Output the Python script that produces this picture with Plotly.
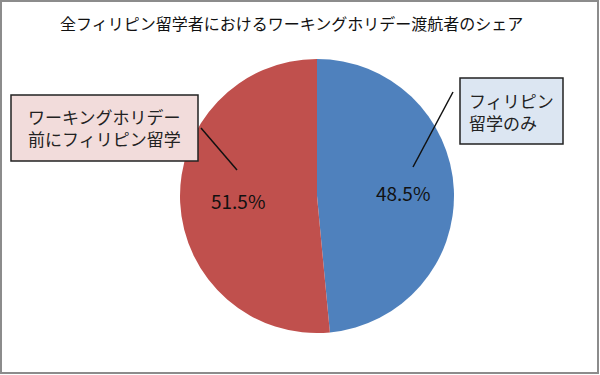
import plotly.graph_objects as go

W, H = 600, 375
title = "全フィリピン留学者におけるワーキングホリデー渡航者のシェア"
labels = ["フィリピン<br>留学のみ", "ワーキングホリデー<br>前にフィリピン留学"]
values = [48.5, 51.5]
colors = ["#4F81BD", "#C0504D"]
box_fills = ["#DCE6F2", "#F2DCDB"]

FONT = "Noto Sans CJK JP, Noto Sans, sans-serif"

def px(x):
    return x / W

def py(y):
    return 1 - y / H

fig = go.Figure()
fig.add_trace(go.Pie(
    labels=labels, values=values, sort=False, direction="clockwise", rotation=0,
    marker=dict(colors=colors, line=dict(width=0)),
    textinfo="none", hoverinfo="label+percent", showlegend=False,
    domain=dict(x=[px(180), px(454)], y=[py(333), py(59)]),
))

total = sum(values)
pct = [f"{v / total * 100:.1f}%" for v in values]

shapes = []
annotations = []

# outer border
shapes.append(dict(type="rect", xref="paper", yref="paper",
                   x0=px(1), x1=px(598), y0=py(373), y1=py(1),
                   line=dict(color="#8C8C8C", width=2), layer="above"))

# label boxes
boxes = [(460, 78, 563, 144), (11, 95, 198, 161)]
box_text_pos = [(511.5, 111), (104.5, 128)]
lines = [((453, 92), (413, 167)), ((201, 128), (237, 170))]
pct_pos = [(403, 192), (238, 200)]

for i in range(2):
    x0, y0, x1, y1 = boxes[i]
    shapes.append(dict(type="rect", xref="paper", yref="paper",
                       x0=px(x0), x1=px(x1), y0=py(y1), y1=py(y0),
                       fillcolor=box_fills[i], line=dict(color="#222222", width=1.5)))
    (lx0, ly0), (lx1, ly1) = lines[i]
    shapes.append(dict(type="line", xref="paper", yref="paper",
                       x0=px(lx0), y0=py(ly0), x1=px(lx1), y1=py(ly1),
                       line=dict(color="#111111", width=1.5)))
    tx, ty = box_text_pos[i]
    annotations.append(dict(text=labels[i], x=px(tx), y=py(ty), xref="paper", yref="paper",
                            xanchor="center", yanchor="middle",
                            showarrow=False, align="left",
                            font=dict(family=FONT, size=17, color="#222222")))
    cx, cy = pct_pos[i]
    annotations.append(dict(text=pct[i], x=px(cx), y=py(cy), xref="paper", yref="paper",
                            xanchor="center", yanchor="middle",
                            showarrow=False,
                            font=dict(family=FONT, size=19, color="#111111")))

annotations.append(dict(text=title, x=px(291), y=py(23), xref="paper", yref="paper",
                        xanchor="center", yanchor="middle",
                        showarrow=False, font=dict(family=FONT, size=16, color="#111111")))

fig.update_layout(
    width=W, height=H, margin=dict(l=0, r=0, t=0, b=0),
    paper_bgcolor="white", plot_bgcolor="white",
    shapes=shapes, annotations=annotations,
)

fig.write_html("out.html", config={"displayModeBar": False})
